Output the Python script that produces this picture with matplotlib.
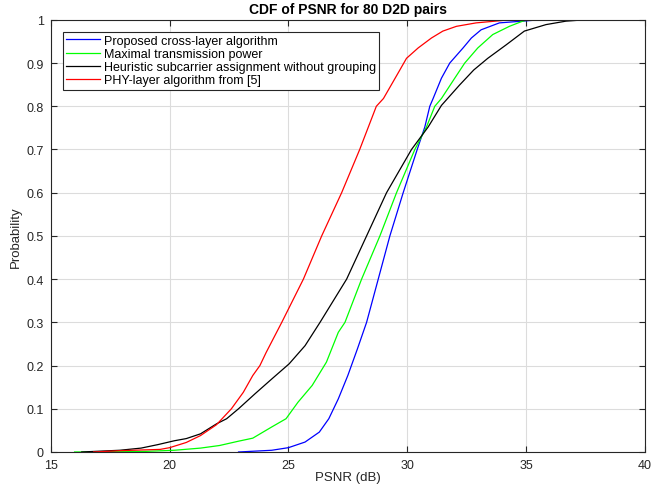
import numpy as np
import matplotlib
matplotlib.use("Agg")
import matplotlib.pyplot as plt

plt.rcParams['font.family'] = ['Liberation Sans', 'DejaVu Sans']

# CDF points (PSNR in dB, probability)
blue_x = [22.9, 24.3, 25.0, 25.7, 26.3, 26.7, 27.1, 27.5, 27.9, 28.29, 28.78, 29.27, 29.83, 30.42,
          30.74, 30.95, 31.09, 31.44, 31.79, 32.35, 32.7, 33.11, 33.88, 35.56]
blue_p = [0.0, 0.004, 0.01, 0.023, 0.046, 0.077, 0.123, 0.177, 0.238, 0.3, 0.4, 0.5, 0.6, 0.7,
          0.752, 0.8, 0.818, 0.865, 0.9, 0.935, 0.958, 0.977, 0.993, 1.0]

green_x = [16.0, 18.8, 20.2, 21.3, 22.1, 22.9, 23.5, 24.3, 24.9, 25.4, 26.0, 26.6, 27.1, 27.38,
           28.08, 28.85, 29.55, 30.32, 30.81, 31.16, 31.44, 32.0, 32.42, 32.97, 33.6, 34.3, 34.86, 35.07]
green_p = [0.0, 0.001, 0.004, 0.009, 0.015, 0.025, 0.032, 0.058, 0.077, 0.115, 0.154, 0.208, 0.277, 0.3,
           0.4, 0.5, 0.6, 0.7, 0.752, 0.8, 0.818, 0.865, 0.9, 0.935, 0.966, 0.985, 0.997, 1.0]

black_x = [16.3, 17.9, 18.8, 19.5, 20.2, 20.7, 21.3, 21.97, 22.4, 22.9, 23.6, 24.3, 25.03, 25.7,
           26.33, 27.45, 28.29, 29.13, 30.18, 30.88, 31.44, 32.2, 32.8, 33.39, 34.16, 34.93, 35.84, 36.68, 37.44]
black_p = [0.0, 0.004, 0.009, 0.017, 0.026, 0.031, 0.042, 0.065, 0.077, 0.1, 0.135, 0.169, 0.204, 0.246,
           0.3, 0.4, 0.5, 0.6, 0.7, 0.752, 0.802, 0.849, 0.884, 0.911, 0.942, 0.974, 0.989, 0.997, 1.0]

red_x = [16.8, 17.9, 19.6, 20.0, 20.7, 21.3, 21.97, 22.6, 23.1, 23.5, 23.8, 24.06, 24.72, 25.63,
         26.4, 27.24, 28.0, 28.7, 29.0, 29.69, 29.97, 30.46, 31.02, 31.5, 32.07, 32.9, 33.9, 34.3]
red_p = [0.0, 0.003, 0.006, 0.01, 0.022, 0.038, 0.063, 0.1, 0.138, 0.177, 0.2, 0.23, 0.3, 0.4,
         0.5, 0.6, 0.7, 0.8, 0.818, 0.884, 0.911, 0.935, 0.958, 0.974, 0.985, 0.993, 0.998, 1.0]

labels = ["Proposed cross-layer algorithm", "Maximal transmission power",
          "Heuristic subcarrier assignment without grouping", "PHY-layer algorithm from [5]"]

fig = plt.figure(figsize=(6.6, 4.85), dpi=100)
ax = fig.add_axes([0.077, 0.066, 0.9, 0.891])

ax.plot(blue_x, blue_p, color='#0000ff', lw=0.9, label=labels[0])
ax.plot(green_x, green_p, color='#00ff00', lw=0.9, label=labels[1])
ax.plot(black_x, black_p, color='#000000', lw=0.9, label=labels[2])
ax.plot(red_x, red_p, color='#ff0000', lw=0.9, label=labels[3])

ax.set_xlim(15, 40)
ax.set_ylim(0, 1)
ax.set_xticks(range(15, 41, 5))
ax.set_yticks(np.arange(0, 1.01, 0.1))
ax.set_yticklabels(["0", "0.1", "0.2", "0.3", "0.4", "0.5", "0.6", "0.7", "0.8", "0.9", "1"])
ax.grid(True, color='#dcdcdc', lw=0.8)
ax.set_axisbelow(True)
ax.tick_params(direction='in', top=True, right=True, length=4, labelsize=9,
               color='#262626', labelcolor='#262626')
ax.tick_params(axis='x', pad=5)
ax.tick_params(axis='y', pad=5)
for s in ax.spines.values():
    s.set_color('#262626')
    s.set_linewidth(0.8)

ax.set_xlabel("PSNR (dB)", fontsize=9.5, color='#262626', labelpad=0)
ax.set_ylabel("Probability", fontsize=9.5, color='#262626', labelpad=3)
ax.set_title("CDF of PSNR for 80 D2D pairs", fontsize=10, fontweight='bold', pad=5)

leg = ax.legend(loc='upper left', bbox_to_anchor=(0.02, 0.973), fontsize=9, fancybox=False,
                framealpha=1, edgecolor='#262626', borderpad=0.25, labelspacing=0.1,
                handlelength=2.7, handletextpad=0.35, borderaxespad=0)
leg.get_frame().set_linewidth(0.8)

fig.savefig("out.png", dpi=100)
